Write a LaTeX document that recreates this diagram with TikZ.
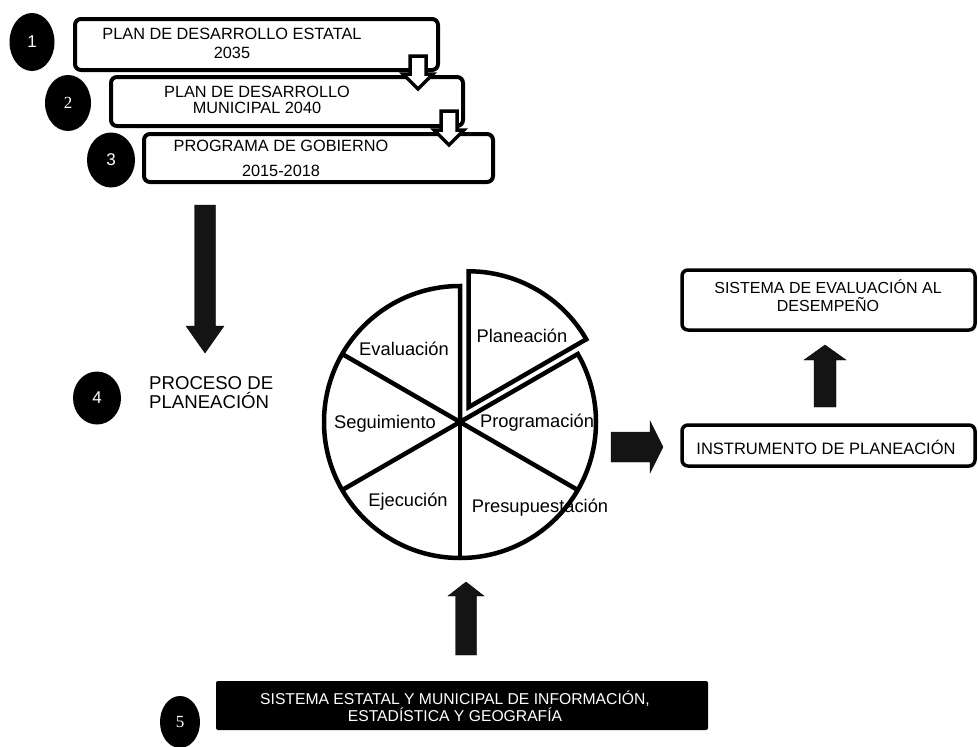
\documentclass[tikz,border=0pt]{standalone}
\usepackage{fontspec}
\setmainfont{Liberation Sans}
\newfontfamily\numserif{Liberation Serif}
\usetikzlibrary{shapes.geometric,calc}

% vertical block arrow: style, tail, tip, shaft half width, head half width, head length (pt)
\newcommand\vblockarrow[6]{%
  \draw[#1] let \p1=(#2), \p2=(#3), \n1={sign(\y2-\y1)} in
    ({\x1-#4pt},\y1) -- ({\x1+#4pt},\y1) -- ({\x1+#4pt},{\y2-(\n1)*#6pt})
    -- ({\x1+#5pt},{\y2-(\n1)*#6pt}) -- (\x1,\y2) -- ({\x1-#5pt},{\y2-(\n1)*#6pt})
    -- ({\x1-#4pt},{\y2-(\n1)*#6pt}) -- cycle;}
% horizontal block arrow, same arguments
\newcommand\hblockarrow[6]{%
  \draw[#1] let \p1=(#2), \p2=(#3), \n1={sign(\x2-\x1)} in
    (\x1,{\y1+#4pt}) -- (\x1,{\y1-#4pt}) -- ({\x2-(\n1)*#6pt},{\y1-#4pt})
    -- ({\x2-(\n1)*#6pt},{\y1-#5pt}) -- (\x2,\y1) -- ({\x2-(\n1)*#6pt},{\y1+#5pt})
    -- ({\x2-(\n1)*#6pt},{\y1+#4pt}) -- cycle;}

\begin{document}
\begin{tikzpicture}[x=1pt,y=-1pt,
  box/.style={draw, line width=4pt, rounded corners=6pt, inner sep=0pt, fill=white},
  rbox/.style={draw, line width=3.5pt, rounded corners=6pt, inner sep=0pt},
  darkbox/.style={fill=black, rounded corners=2pt, inner sep=0pt},
  boxtext/.style={align=center, inner sep=0pt},
  numdot/.style={ellipse, fill=black, inner sep=0pt, text=white, font=\fontsize{17}{17}\selectfont},
  hollowarrow/.style={draw, fill=white, line width=3.5pt, line join=miter},
  solidarrow/.style={fill=black!92},
  pie/.style={line width=4.5pt, line join=miter},
  slicelabel/.style={inner sep=0pt, font=\fontsize{18.3}{18.3}\selectfont}]

\useasboundingbox (0,0) rectangle (978,747);

% numbered markers
\node[numdot, minimum width=45pt, minimum height=58pt] (n1) at (32,42) {1};
\node[numdot, minimum width=46pt, minimum height=56pt] (n2) at (68,103) {\numserif 2};
\node[numdot, minimum width=48pt, minimum height=55pt] (n3) at (111,160) {3};
\node[numdot, minimum width=48pt, minimum height=53pt] (n4) at (97,398) {4};
\node[numdot, minimum width=40pt, minimum height=52pt] (n5) at (180,722) {\numserif 5};

% cascade of plans
\node[box, minimum width=363pt, minimum height=51pt] (b1) at (256.5,44.5) {};
\node[box, minimum width=352pt, minimum height=49pt] (b2) at (287,101.5) {};
\node[box, minimum width=349pt, minimum height=48pt] (b3) at (318.5,158) {};

\node[boxtext, font=\fontsize{16.3}{19}\selectfont] (t1) at (232,43) {PLAN DE DESARROLLO ESTATAL\\2035};
\node[boxtext, font=\fontsize{16.3}{16.5}\selectfont] (t2) at (257,100) {PLAN DE DESARROLLO\\MUNICIPAL 2040};
\node[boxtext, font=\fontsize{16.3}{25}\selectfont] (t3) at (281,158.5) {PROGRAMA DE GOBIERNO\\2015-2018};

% hollow arrows between the plans
\coordinate (h1s) at (418,56);  \coordinate (h1e) at (418,89);
\coordinate (h2s) at (449,111); \coordinate (h2e) at (449,145);
\vblockarrow{hollowarrow}{h1s}{h1e}{8}{15}{15}
\vblockarrow{hollowarrow}{h2s}{h2e}{8}{15}{15}

% planning process
\coordinate (d1s) at (205,205); \coordinate (d1e) at (205,353);
\vblockarrow{solidarrow}{d1s}{d1e}{10.5}{19}{27}
\node[anchor=west, align=left, inner sep=0pt, font=\fontsize{18.6}{19}\selectfont] (proc) at (149,392.5) {PROCESO DE\\PLANEACIÓN};

% cycle wheel
\coordinate (pc) at (460,422);
\coordinate (pa) at ($(pc)+(-60:17)$);
\draw[pie] (pc) -- ++(-90:136) arc[start angle=-90, end angle=-390, radius=136] -- cycle;
\foreach \a in {-150,-210,-270,-330}
  \draw[pie] (pc) -- ++(\a:136);
\draw[pie] (pa) -- ++(-30:136) arc[start angle=-30, end angle=-90, radius=136] -- cycle;

\node[slicelabel] (lpl) at (522,336) {Planeación};
\node[slicelabel] (lev) at (404,349) {Evaluación};
\node[slicelabel] (lse) at (385,424) {Seguimiento};
\node[slicelabel] (lpr) at (537,423) {Programación};
\node[slicelabel] (lej) at (408,502) {Ejecución};
\node[slicelabel] (lpp) at (540,508) {Presupuestación};

% instrument and evaluation
\node[rbox, minimum width=293pt, minimum height=60pt] (sed) at (828.5,300) {};
\node[boxtext, font=\fontsize{16}{18}\selectfont] (sedt) at (828,296) {SISTEMA DE EVALUACIÓN AL\\DESEMPEÑO};
\node[rbox, minimum width=293pt, minimum height=41pt] (ins) at (828.5,445.5) {};
\node[boxtext, font=\fontsize{16.5}{18}\selectfont] (inst) at (826,447) {INSTRUMENTO DE PLANEACIÓN};

\coordinate (r1s) at (611,447); \coordinate (r1e) at (663,447);
\hblockarrow{solidarrow}{r1s}{r1e}{15}{26}{13}
\coordinate (u1s) at (825,407); \coordinate (u1e) at (825,345);
\vblockarrow{solidarrow}{u1s}{u1e}{11}{21}{15}

% information system
\node[darkbox, minimum width=492pt, minimum height=49pt] (sis) at (462,705.5) {};
\node[boxtext, text=white, font=\fontsize{15.7}{17}\selectfont] (sist) at (455,706.5) {SISTEMA ESTATAL Y MUNICIPAL DE INFORMACIÓN,\\ESTADÍSTICA Y GEOGRAFÍA};
\coordinate (u2s) at (466,655); \coordinate (u2e) at (466,582);
\vblockarrow{solidarrow}{u2s}{u2e}{10.5}{18}{14}

\end{tikzpicture}
\end{document}
